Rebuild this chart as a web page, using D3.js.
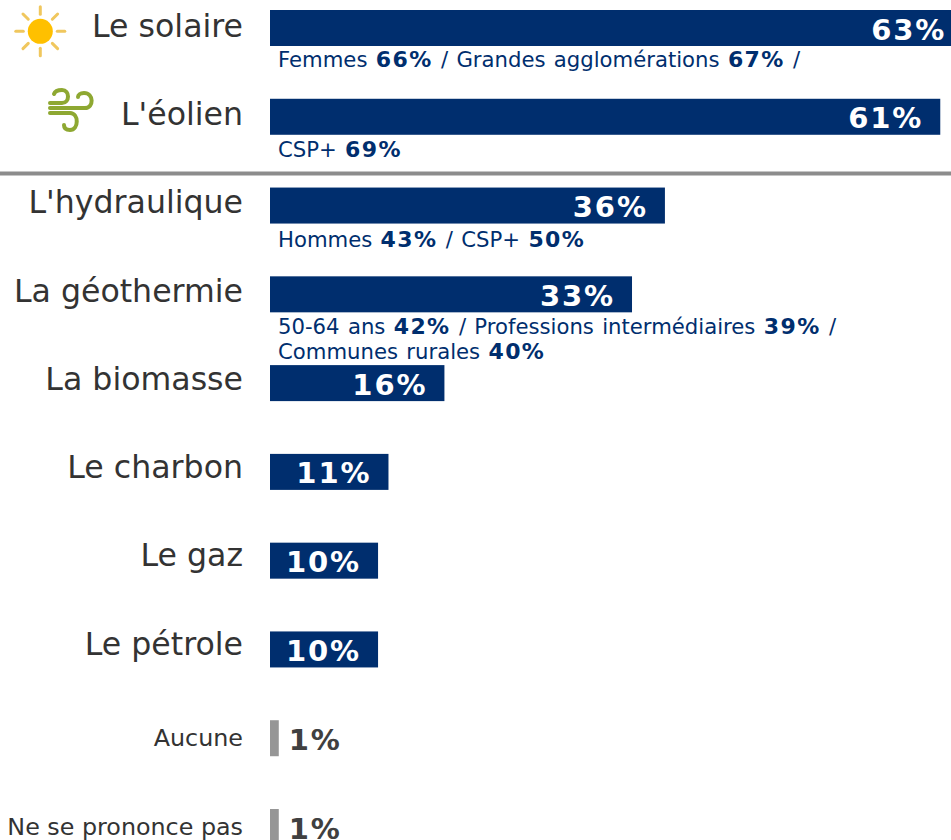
<!DOCTYPE html>
<html><head><meta charset="utf-8"><script src="https://cdn.jsdelivr.net/npm/d3@7"></script>
<style>html,body{margin:0;padding:0;background:#fff}svg{display:block}text{font-family:"DejaVu Sans",Verdana,sans-serif;white-space:pre}</style></head><body>
<script>
const categories=["Le solaire","L'éolien","L'hydraulique","La géothermie","La biomasse","Le charbon","Le gaz","Le pétrole","Aucune","Ne se prononce pas"];
const values=[63.2,61.1,36,33,15.9,10.8,9.85,9.85,0.8,0.8];
const greyCategories=["Aucune","Ne se prononce pas"];
const notes=[
 [[["Femmes ",0],["66%",1],[" / Grandes agglomérations ",0],["67%",1],[" /",0]]],
 [[["CSP+ ",0],["69%",1]]],
 [[["Hommes ",0],["43%",1],[" / CSP+ ",0],["50%",1]]],
 [[["50-64 ans ",0],["42%",1],[" / Professions intermédiaires ",0],["39%",1],[" /",0]],[["Communes rurales ",0],["40%",1]]],
 [],[],[],[],[],[]];
const W=951,H=840;
const svg=d3.select("body").append("svg").attr("width",W).attr("height",H);
const x=d3.scaleLinear().domain([0,10]).range([270,379.7]);
const y=d3.scalePoint().domain(categories).range([28,827]);
const yLabel=d3.scalePoint().domain(categories.slice(0,8)).range([37,654.5]);
const noteShift=[39,40,41.5,40];
const bh=36;
categories.forEach((c,i)=>{
 const grey=greyCategories.includes(c),v=values[i],cy=y(c),w=x(v)-x(0);
 svg.append("rect").attr("x",x(0)).attr("y",cy-18).attr("width",w).attr("height",bh).attr("fill",grey?"#969696":"#002e6e");
 const lab=svg.append("text").attr("y",cy+11.5).attr("font-weight","bold").attr("font-size",29).attr("letter-spacing",1.9).text(Math.round(v)+"%");
 if(grey) lab.attr("x",x(v)+10).attr("fill","#404040");
 else lab.attr("x",x(v)-17).attr("text-anchor","end").attr("fill","#fff");
 svg.append("text").attr("x",243).attr("y",grey?cy+8:yLabel(c)).attr("text-anchor","end").attr("font-size",grey?23.8:31.6).attr("fill","#333").text(c);
 notes[i].forEach((ln,k)=>{
  const t=svg.append("text").attr("x",278).attr("y",cy+noteShift[i]+k*24.5).attr("font-size",21.2).attr("word-spacing",1.6).attr("fill","#002e6e");
  ln.forEach(s=>{const sp=t.append("tspan").text(s[0]);if(s[1])sp.attr("font-weight","bold").attr("font-size",22).attr("letter-spacing",1.4);});
 });
});
svg.append("line").attr("x1",0).attr("x2",W).attr("y1",173.5).attr("y2",173.5).attr("stroke","#8c8c8c").attr("stroke-width",4);
const sun=svg.append("g").attr("transform","translate(40.3,31.3)");
sun.append("circle").attr("r",12.5).attr("fill","#ffc000");
d3.range(8).forEach(k=>{const a=k*Math.PI/4;sun.append("line").attr("x1",17*Math.cos(a)).attr("y1",17*Math.sin(a)).attr("x2",24.5*Math.cos(a)).attr("y2",24.5*Math.sin(a)).attr("stroke","#f0c75e").attr("stroke-width",3).attr("stroke-linecap","round");});
const wind=svg.append("g").attr("fill","none").attr("stroke","#8ea832").attr("stroke-width",4).attr("stroke-linecap","round");
wind.append("path").attr("d","M50 103H62C70 103 70 90 62 90C58 90 55 91 54 94");
wind.append("path").attr("d","M50 108H85C94 108 94 93 84 93C80 93 78 95 78 97");
wind.append("path").attr("d","M50 113H70C79 113 79 130 70 130C66 130 64 128 64 125");
</script></body></html>
